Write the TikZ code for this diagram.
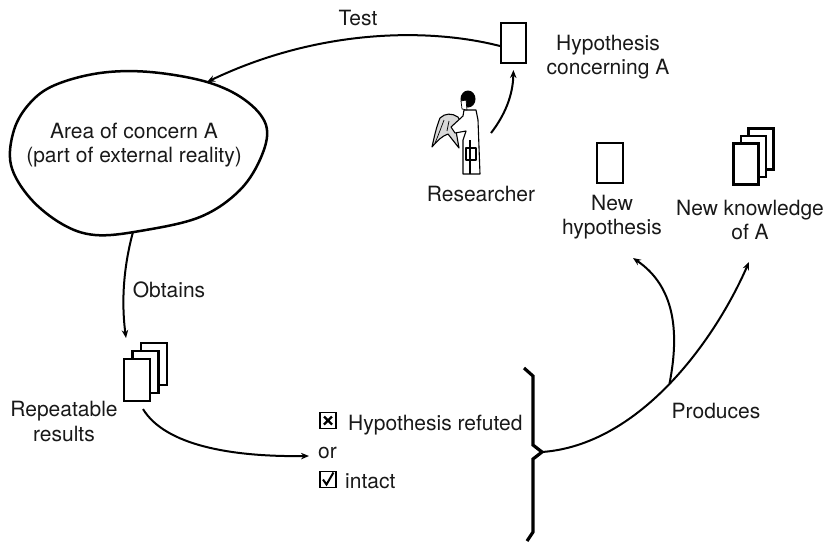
\documentclass[tikz,border=0pt]{standalone}
\usepackage{fontspec}
\setmainfont{TeX Gyre Heros}
\usetikzlibrary{arrows.meta}
\begin{document}
\begin{tikzpicture}[x=1pt,y=-1pt,
  lbl/.style={font=\fontsize{21}{24.5}\selectfont, inner sep=0pt, text=black!90},
  page/.style={draw, fill=white, line width=2.1pt, minimum width=26pt, minimum height=42pt, inner sep=0pt},
  conn/.style={line width=2pt, -{Stealth[length=8pt,width=6.5pt]}},
  tick/.style={draw, line width=1.6pt, minimum size=16pt, inner sep=0pt}]
\useasboundingbox (0,0) rectangle (831,542);

% area of concern (irregular outline)
\draw[line width=2.5pt] plot[smooth cycle, tension=0.6] coordinates {
  (100,73) (150,72) (207,82) (245,100) (266,125) (262,155) (240,190)
  (200,217) (140,231) (95,235) (62,224) (30,198) (11,165) (14,130)
  (30,103) (55,85)};
\node[lbl, align=center] (area) at (134,145) {Area of concern A\\(part of external reality)};
\coordinate (areaIn) at (207,82);
\coordinate (areaOut) at (133,232);

% hypothesis under test
\node[page, minimum width=25pt, minimum height=40pt] (hyp) at (513.5,43) {};
\node[lbl, align=center] (hyptxt) at (608,57) {Hypothesis\\concerning A};
\node[lbl, anchor=base] (test) at (358,25) {Test};
\draw[conn] ([yshift=-3pt]hyp.west) .. controls (430,28) and (320,28) .. (areaIn);

% researcher figure
\begin{scope}[line width=1.1pt, line join=round]
  % draped cloth
  \draw[fill=black!15] (440,118) .. controls (445,113) and (452,113) .. (458,117)
     -- (460,121) -- (456,131) -- (459,148) -- (448,134)
     .. controls (442,136) and (437,141) .. (432,147)
     .. controls (434,138) and (436,128) .. cycle;
  \draw[line width=0.7pt] (444,120) .. controls (441,128) and (438,136) .. (435,143)
     (449,121) -- (447,131);
  % coat
  \draw[fill=white] (464,110) -- (476,110) -- (478,120) -- (480,174) -- (463,174)
     -- (463,140) -- (466,131) -- (455,133) -- (451,127) -- (463,116) -- cycle;
  \draw (470,140) -- (470,174) (466,148) rectangle (476,160);
  % head
  \fill (468,99) ellipse[x radius=7.5, y radius=8.5];
  \draw[fill=white, line width=0.7pt] (461,101) -- (466,100) -- (467,110) -- (462,109) -- cycle;
\end{scope}
\coordinate (res) at (491,133);
\node[lbl, anchor=base] (restxt) at (481,201) {Researcher};
\draw[conn, shorten >=6pt] (res) .. controls (505,115) and (513,95) .. (hyp.south);

% repeatable results
\coordinate (obtTip) at (126,338);
\draw[conn] (areaOut) .. controls (124,265) and (121,300) .. (obtTip);
\node[lbl, anchor=base] (obt) at (169,297) {Obtains};
\node[page] (r3) at (154,364) {};
\node[page] (r2) at (145.5,372) {};
\node[page] (r1) at (137,380) {};
\node[lbl, align=center] (restx) at (64,421.6) {Repeatable\\results};

% outcome
\node[tick] (bx1) at (328,420.5) {};
\draw[line width=2.4pt] ([shift={(-4,-4)}]bx1.center) -- ([shift={(4,4)}]bx1.center)
   ([shift={(-4,4)}]bx1.center) -- ([shift={(4,-4)}]bx1.center);
\node[tick] (bx2) at (328,479.5) {};
\draw[line width=2pt] ([shift={(-5,0)}]bx2.center) -- ([shift={(-1.5,5)}]bx2.center)
   -- ([shift={(5.5,-7)}]bx2.center);
\node[lbl, anchor=base west] (refuted) at (348,430) {Hypothesis refuted};
\node[lbl, anchor=base west] (ortx) at (318,458) {or};
\node[lbl, anchor=base west] (intact) at (345,488) {intact};
\coordinate (orIn) at (309,456);
\draw[conn] ([shift={(6,7)}]r1.south) .. controls (165,445) and (230,457) .. (orIn);

% brace gathering both outcomes
\draw[line width=3.2pt, line join=miter] (524,368) -- (533,376) -- (533,445)
   -- (542,452) -- (533,459) -- (533,532) -- (527,541);
\coordinate (brace) at (542,452);

% products
\node[page, minimum height=40pt] (nh) at (610,163) {};
\node[lbl, align=center] (nhtx) at (612,217) {New\\hypothesis};
\node[page, minimum width=25pt, minimum height=41pt] (k3) at (761,149) {};
\node[page, minimum width=25pt, minimum height=41pt] (k2) at (753.5,156.5) {};
\node[page, minimum width=25pt, minimum height=41pt] (k1) at (746,164) {};
\node[lbl, align=center] (nktx) at (750,220) {New knowledge\\of A};
\coordinate (hTip) at (633,258);
\coordinate (kTip) at (749,262);
\draw[conn] (brace) .. controls (640,445) and (715,340) .. (kTip) coordinate[pos=0.5] (fork);
\draw[conn] (fork) .. controls (680,330) and (674,286) .. (hTip);
\node[lbl, anchor=base] (prod) at (716,418) {Produces};
\end{tikzpicture}
\end{document}
